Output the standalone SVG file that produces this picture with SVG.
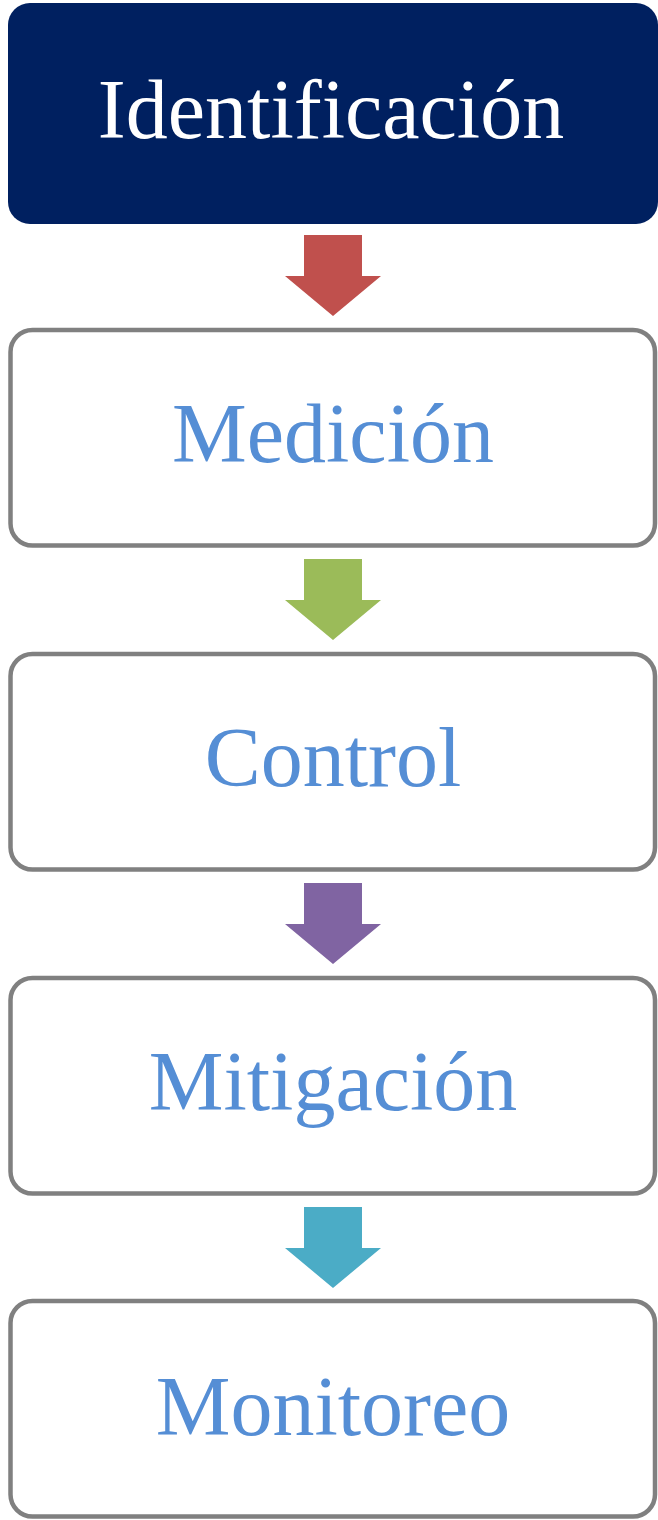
<svg xmlns="http://www.w3.org/2000/svg" width="658" height="1520" viewBox="0 0 658 1520">
<style>
.box{fill:#ffffff;stroke:#808080;stroke-width:4.5}
.lbl{font-family:"Liberation Serif","Times New Roman",serif;font-size:84px;text-anchor:middle;fill:#558ED5}
.top{fill:#002060}
.topl{font-family:"Liberation Serif","Times New Roman",serif;font-size:84px;text-anchor:middle;fill:#ffffff}
</style>
<defs>
<path id="arr" d="M304 0 H362 V41 H381 L333 81 L285 41 H304 Z"/>
</defs>
<g id="connectors">
<use href="#arr" y="235" fill="#C0504D"/>
<use href="#arr" y="559" fill="#9BBB59"/>
<use href="#arr" y="883" fill="#8064A2"/>
<use href="#arr" y="1207" fill="#4BACC6"/>
</g>
<g id="identificacion">
<rect class="top" x="8" y="3" width="650" height="221" rx="22"/>
<text class="topl" x="331" y="138">Identificación</text>
</g>
<g id="medicion">
<rect class="box" x="10.5" y="330" width="644.5" height="215.5" rx="22"/>
<text class="lbl" x="333" y="462">Medición</text>
</g>
<g id="control">
<rect class="box" x="10.5" y="654" width="644.5" height="215.5" rx="22"/>
<text class="lbl" x="333" y="786">Control</text>
</g>
<g id="mitigacion">
<rect class="box" x="10.5" y="978" width="644.5" height="215.5" rx="22"/>
<text class="lbl" x="333" y="1110">Mitigación</text>
</g>
<g id="monitoreo">
<rect class="box" x="10.5" y="1301" width="644.5" height="215.5" rx="22"/>
<text class="lbl" x="333" y="1435">Monitoreo</text>
</g>
</svg>
